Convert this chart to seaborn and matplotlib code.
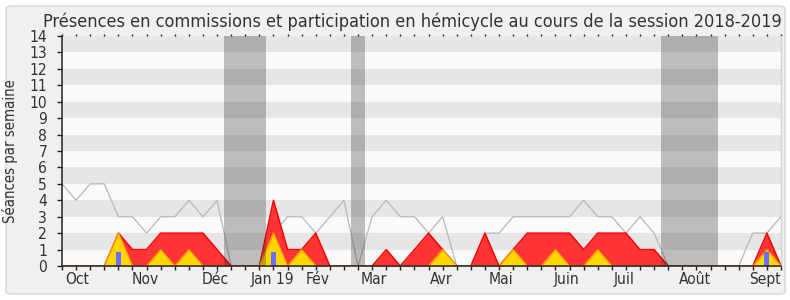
import matplotlib
matplotlib.use("Agg")
import matplotlib.pyplot as plt
import seaborn as sns
import numpy as np
import pandas as pd
from matplotlib.patches import FancyBboxPatch

# ---- data (one value per week of the session) ----
weeks = list(range(52))
median_presence = [5, 4, 5, 5, 3, 3, 2, 3, 3, 4, 3, 4, 0, 0, 0, 2, 3, 3, 2, 3,
                   4, 0, 3, 4, 3, 3, 2, 3, 0, 0, 2, 2, 3, 3, 3, 3, 3, 4, 3, 3,
                   2, 3, 2, 0, 0, 0, 0, 0, 0, 2, 2, 3]
hemicycle = [0, 0, 0, 0, 2, 1, 1, 2, 2, 2, 2, 1, 0, 0, 0, 4, 1, 1, 2, 0,
             0, 0, 0, 1, 0, 1, 2, 1, 0, 0, 2, 0, 1, 2, 2, 2, 2, 1, 2, 2,
             2, 1, 1, 0, 0, 0, 0, 0, 0, 0, 2, 0]
commission = [0, 0, 0, 0, 2, 0, 0, 1, 0, 1, 0, 0, 0, 0, 0, 2, 0, 1, 0, 0,
              0, 0, 0, 0, 0, 0, 0, 1, 0, 0, 0, 0, 1, 0, 0, 1, 0, 0, 1, 0,
              0, 0, 0, 0, 0, 0, 0, 0, 0, 0, 1, 0]
interventions = [0, 0, 0, 0, 0.85, 0, 0, 0, 0, 0, 0, 0, 0, 0, 0, 0.85, 0, 0, 0, 0,
                 0, 0, 0, 0, 0, 0, 0, 0, 0, 0, 0, 0, 0, 0, 0, 0, 0, 0, 0, 0,
                 0, 0, 0, 0, 0, 0, 0, 0, 0, 0, 0.85, 0]
vacances = [(11.5, 14.5), (20.5, 21.5), (42.5, 46.5)]
month_labels = ["Oct", "Nov", "Déc", "Jan 19", "Fév", "Mar", "Avr", "Mai",
                "Juin", "Juil", "Août", "Sept"]
month_pos = [1.1, 5.9, 10.9, 14.9, 18.1, 22.1, 26.9, 31.1, 35.8, 39.9, 44.9, 49.9]
title = "Présences en commissions et participation en hémicycle au cours de la session 2018-2019"
ylabel = "Séances par semaine"

df = pd.DataFrame({"week": weeks, "median": median_presence, "hemi": hemicycle,
                   "comm": commission, "interv": interventions})

sns.set_theme(style="white")
plt.rcParams["font.family"] = ["DejaVu Sans"]
plt.rcParams["font.stretch"] = "condensed"

W, H, DPI = 790, 300, 100
fig = plt.figure(figsize=(W / DPI, H / DPI), dpi=DPI)
fig.patch.set_facecolor("white")
panel = FancyBboxPatch((6 / W, 6 / H), 779 / W, 288 / H,
                       boxstyle="round,pad=0,rounding_size=0.008",
                       transform=fig.transFigure, facecolor="#F0F0F0",
                       edgecolor="#DCDCDC", linewidth=1.2, zorder=-5)
fig.patches.append(panel)

ax = fig.add_axes([62 / W, 1 - 266 / H, 719 / W, 230 / H])
ax.set_zorder(1)
ax.set_facecolor("#FAFAFA")
ax.set_xlim(0, 51)
ax.set_ylim(0, 14)

# horizontal stripes
for y0 in range(1, 14, 2):
    ax.axhspan(y0, y0 + 1, color="#E6E6E6", lw=0, zorder=0.5)

# grey median line
sns.lineplot(data=df, x="week", y="median", ax=ax, color="#B8B8B8", lw=0.9, zorder=2)

# hemicycle (red)
ax.fill_between(df["week"], 0, df["hemi"], color="#FF3535", lw=0, zorder=3)
sns.lineplot(data=df, x="week", y="hemi", ax=ax, color="#FF0000", lw=1.1, zorder=3.1)
# commission (yellow)
ax.fill_between(df["week"], 0, df["comm"], color="#FFD700", lw=0, zorder=4)
sns.lineplot(data=df, x="week", y="comm", ax=ax, color="#FFA500", lw=0.9, zorder=4.1)
# interventions (blue bars)
ax.bar(df["week"], df["interv"], width=0.36, color="#6C6CFF", lw=0, zorder=5)

# vacation bands
for a, b in vacances:
    ax.axvspan(a, b, color="#303030", alpha=0.3, lw=0, zorder=6)

ax.set_xlabel("")
ax.set_ylabel(ylabel, fontsize=10.7, color="#333333")
ax.yaxis.set_label_coords(-0.061, 0.5)

ax.set_yticks(range(0, 15))
ax.set_xticks(month_pos)
ax.set_xticklabels(month_labels)
ax.set_xticks(weeks, minor=True)
ax.tick_params(axis="x", which="major", length=0, pad=4, labelsize=11.2, colors="#333333")
ax.tick_params(axis="x", which="minor", bottom=True, top=True, length=3.2, width=1,
               color="#222222", direction="out")
ax.tick_params(axis="y", which="major", left=True, length=3.6, width=1, pad=7,
               labelsize=11.2, colors="#333333", color="#222222")
for side in ["left", "bottom"]:
    ax.spines[side].set_color("#222222")
    ax.spines[side].set_linewidth(1.1)
    ax.spines[side].set_zorder(10)
ax.spines["top"].set_visible(False)
ax.spines["right"].set_color("#D2D2D2")
ax.spines["right"].set_linewidth(1)

# top ticks as small dots
for t in ax.xaxis.get_minor_ticks():
    t.tick2line.set_markersize(1.2)
    t.tick2line.set_color("#333333")

ttl = fig.text(412 / W, 1 - 22 / H, title, ha="center", va="center",
               fontsize=11.5, color="#333333")
fig.canvas.draw()
bb = ttl.get_window_extent()
ttl.set_fontsize(11.5 * 737 / bb.width)

fig.savefig("out.png", dpi=DPI, facecolor=fig.get_facecolor())
